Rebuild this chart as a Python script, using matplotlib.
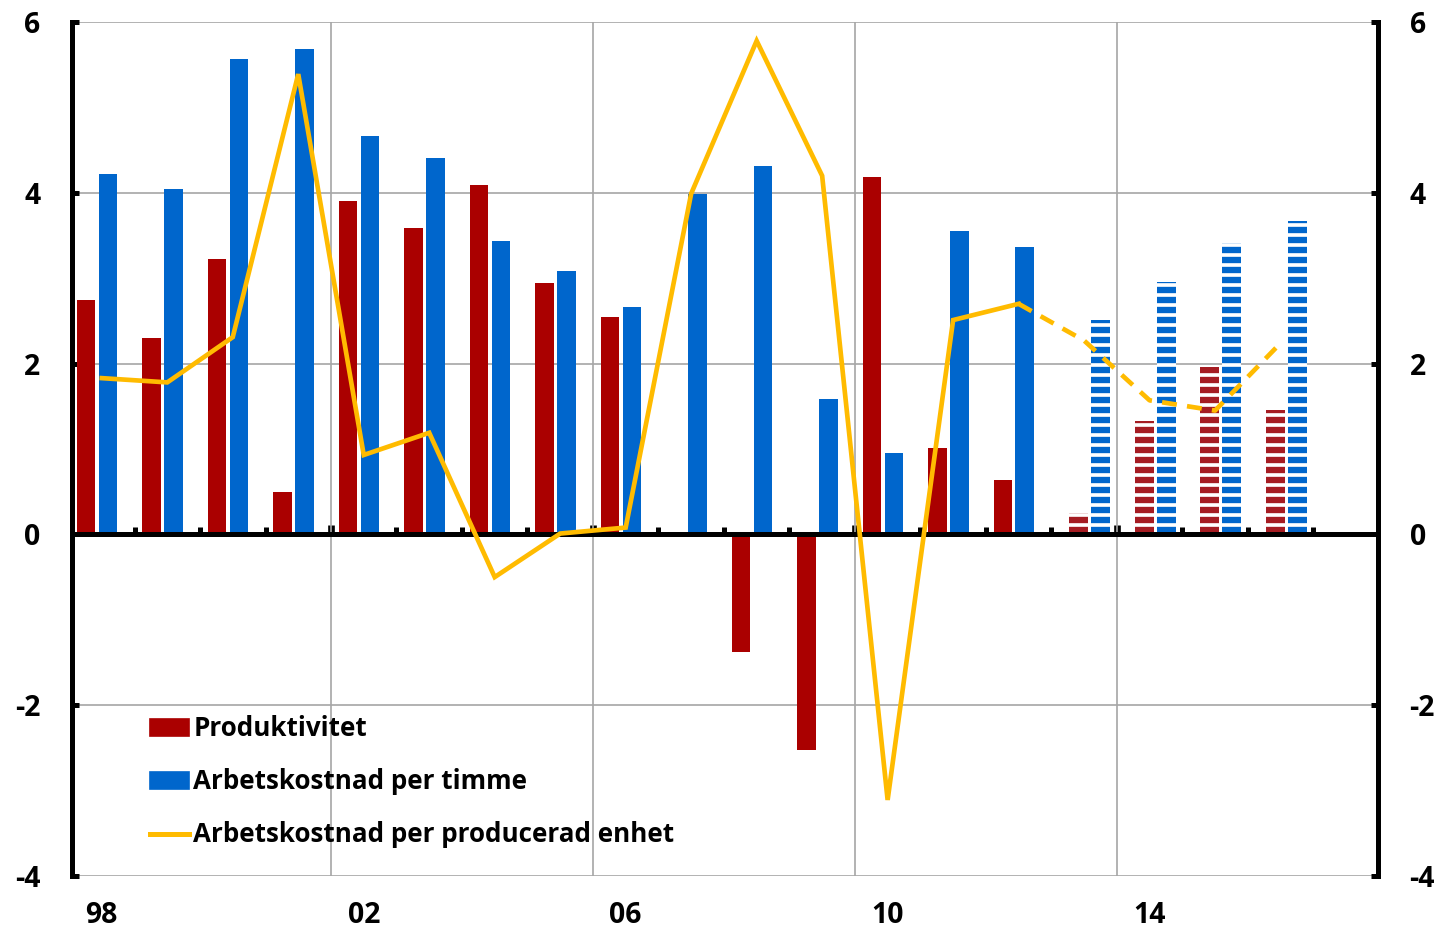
import numpy as np
import matplotlib
matplotlib.use("Agg")
import matplotlib.pyplot as plt
from matplotlib.patches import Patch
from matplotlib.lines import Line2D

plt.rcParams["font.family"] = ["Open Sans", "DejaVu Sans"]
plt.rcParams["font.weight"] = "bold"
plt.rcParams["axes.unicode_minus"] = False
plt.rcParams["hatch.linewidth"] = 2.2

# data, yearly change in percent
years = list(range(1998, 2017))
produktivitet = [2.75, 2.30, 3.23, 0.50, 3.91, 3.59, 4.09, 2.94, 2.55, 0.02,
                 -1.38, -2.52, 4.19, 1.01, 0.64, 0.25, 1.33, 1.96, 1.46]
kostnad_timme = [4.22, 4.05, 5.57, 5.69, 4.66, 4.41, 3.43, 3.08, 2.66, 3.99,
                 4.31, 1.58, 0.95, 3.55, 3.37, 2.51, 2.96, 3.41, 3.67]
kostnad_enhet = [1.83, 1.78, 2.31, 5.39, 0.93, 1.19, -0.50, 0.01, 0.08, 3.99,
                 5.78, 4.20, -3.11, 2.51, 2.70, 2.27, 1.57, 1.45, 2.24]
first_forecast = 2013
label_years = [1998, 2002, 2006, 2010, 2014]
yticks = [-4, -2, 0, 2, 4, 6]

red = "#AA0000"
red_fc = "#A51C22"
blue = "#0066CC"
yellow = "#FFBB00"
grid = "#A6A6A6"

x = np.arange(len(years))
fc = np.array(years) >= first_forecast

fig = plt.figure(figsize=(1444 / 120, 930 / 120), dpi=120)
ax = fig.add_axes([0.0499, 0.0581, 0.9043, 0.9182])

# bars: outcome solid, forecast striped (forecast bars sit a bit to the right)
for i in x:
    if fc[i]:
        ax.bar(x[i] - 0.08, produktivitet[i], 0.29, color=red_fc, edgecolor="white",
               linewidth=0, hatch="--", zorder=2)
        ax.bar(x[i] + 0.255, kostnad_timme[i], 0.29, color=blue, edgecolor="white",
               linewidth=0, hatch="--", zorder=2)
    else:
        ax.bar(x[i] - 0.24, produktivitet[i], 0.285, color=red, linewidth=0, zorder=2)
        ax.bar(x[i] + 0.095, kostnad_timme[i], 0.285, color=blue, linewidth=0, zorder=2)

ax.axhline(0, color="black", lw=3, zorder=3)

# line: solid up to last outcome, dashed for forecast
k = years.index(first_forecast)
ax.plot(x[:k], kostnad_enhet[:k], color=yellow, lw=2.8, zorder=4,
        solid_joinstyle="miter")
ax.plot(x[k - 1:], kostnad_enhet[k - 1:], color=yellow, lw=2.8, zorder=4,
        dashes=(3.2, 2.2))

ax.set_xlim(-0.454, 19.486)
ax.set_ylim(-4, 6)

# grid
bounds = [years.index(yr) - 0.5 for yr in label_years[1:]]
for y in yticks:
    if y != 0:
        ax.axhline(y, color=grid, lw=1.0, zorder=1)
for b in bounds:
    ax.axvline(b, color=grid, lw=1.0, zorder=1)

ax.set_xticks([years.index(yr) for yr in label_years])
ax.set_xticklabels([str(yr)[2:] for yr in label_years])
ax.tick_params(axis="x", length=0, pad=15, labelsize=17)

ax.set_yticks(yticks)
ax.tick_params(axis="y", direction="in", length=4, width=3, pad=19,
               labelsize=17, right=True, labelright=True)

for s in ["top", "bottom"]:
    ax.spines[s].set_visible(False)
for s in ["left", "right"]:
    ax.spines[s].set_linewidth(3)

# small ticks on the zero line
sec = ax.secondary_xaxis(0.4)
sec.set_xticks(bounds)
sec.set_xticks([b for b in np.arange(0.5, len(years), 1.0) if b not in bounds], minor=True)
sec.tick_params(which="major", direction="in", length=5.5, width=4, labelbottom=False)
sec.tick_params(which="minor", direction="in", length=4, width=3)
sec.spines["bottom"].set_visible(False)

handles = [Patch(color=red), Patch(color=blue), Line2D([], [], color=yellow, lw=3)]
labels = ["Produktivitet", "Arbetskostnad per timme", "Arbetskostnad per producerad enhet"]
ax.legend(handles, labels, loc="upper left", bbox_to_anchor=(0.06, 0.188),
          frameon=False, borderaxespad=0, borderpad=0, fontsize=15.6,
          handlelength=1.5, handleheight=0.6, handletextpad=0.15,
          labelspacing=1.0)

fig.savefig("out.png", dpi=120)
